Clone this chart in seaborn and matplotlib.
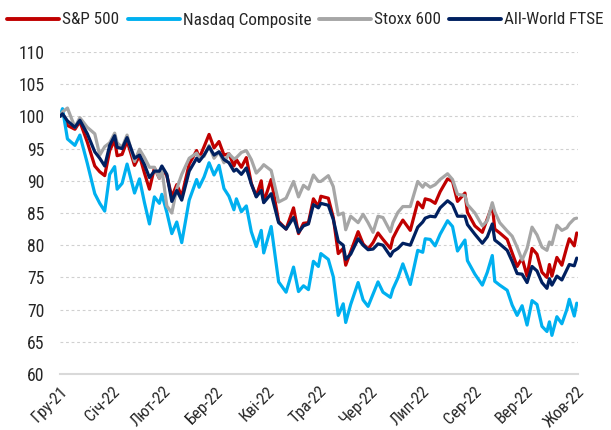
import numpy as np
import pandas as pd
import matplotlib
matplotlib.use("Agg")
import matplotlib.pyplot as plt
from matplotlib import font_manager
import seaborn as sns

# trading-day index (0 = 31 Dec 2021) of each sampled point
day_idx = [0, 1, 3, 6, 8, 11, 14, 16, 18, 20, 22, 23, 25, 27, 30, 32, 34, 36, 38, 40,
           41, 43, 45, 47, 49, 52, 55, 56, 58, 60, 62, 64, 66, 68, 70, 71, 73, 75, 77, 79,
           81, 82, 85, 88, 91, 94, 96, 98, 100, 102, 104, 105, 108, 110, 112, 114, 115, 117, 120, 122,
           124, 126, 128, 130, 133, 134, 136, 138, 141, 144, 146, 147, 149, 151, 153, 156, 158, 160, 163, 164,
           167, 170, 172, 174, 175, 177, 180, 182, 184, 186, 188, 190, 192, 194, 196, 197, 198, 200, 202, 204,
           205, 207, 208]

sp500 = [100.0, 100.6, 98.6, 98.0, 99.2, 96.0, 92.3, 91.4, 90.8, 94.7, 96.3, 93.9, 94.1, 96.2, 92.4, 93.9, 91.2, 88.7, 92.0, 90.4,
         92.0, 90.8, 87.5, 89.4, 87.6, 92.6, 94.7, 93.5, 95.3, 97.2, 95.1, 96.1, 94.0, 94.2, 92.3, 93.3, 92.1, 93.6, 89.6, 87.6,
         90.0, 86.7, 90.2, 83.7, 82.5, 85.8, 81.8, 83.4, 83.5, 87.2, 86.0, 87.6, 87.3, 84.3, 78.7, 79.5, 76.9, 79.0, 82.1, 80.2,
         79.4, 80.4, 81.9, 80.9, 79.5, 81.1, 82.6, 83.9, 82.3, 86.7, 85.8, 87.2, 87.0, 86.5, 88.3, 90.3, 89.9, 86.8, 88.1, 85.1,
         83.0, 82.0, 84.1, 86.2, 82.5, 81.9, 80.9, 78.8, 76.7, 78.0, 75.2, 79.5, 78.6, 75.8, 75.0, 77.0, 75.2, 78.1, 76.9, 79.7,
         81.0, 79.9, 81.9]

nasdaq = [100.0, 101.2, 96.5, 95.5, 97.1, 92.7, 88.0, 86.5, 85.3, 91.0, 92.2, 88.7, 89.6, 92.6, 88.1, 90.3, 86.6, 83.3, 87.5, 86.5,
          87.9, 85.1, 81.8, 83.6, 80.4, 87.0, 90.2, 89.0, 90.6, 92.8, 90.9, 92.4, 88.8, 87.6, 85.5, 87.2, 85.2, 86.1, 82.1, 79.8,
          82.3, 78.8, 82.9, 74.3, 72.7, 76.6, 72.8, 73.7, 73.1, 77.5, 76.7, 78.7, 77.8, 75.1, 69.1, 70.9, 68.0, 70.8, 74.2, 71.5,
          70.5, 72.4, 74.3, 72.7, 71.9, 73.2, 74.9, 77.1, 73.9, 79.2, 78.9, 81.0, 80.9, 79.9, 81.7, 83.8, 82.9, 79.1, 80.8, 77.6,
          75.5, 73.8, 75.8, 78.4, 74.4, 73.8, 73.0, 70.7, 69.1, 70.6, 67.6, 71.4, 70.8, 67.4, 66.6, 68.1, 66.0, 68.9, 67.8, 70.0,
          71.6, 69.0, 71.0]

stoxx600 = [100.0, 100.7, 101.3, 98.3, 99.8, 98.3, 97.3, 94.0, 95.3, 95.9, 97.4, 95.9, 95.2, 97.1, 93.0, 94.9, 93.6, 92.1, 92.1, 90.4,
            91.8, 86.1, 85.0, 88.8, 91.0, 93.5, 94.3, 93.6, 93.8, 95.5, 93.5, 94.5, 92.8, 94.2, 93.4, 93.6, 94.4, 94.7, 93.3, 91.2,
            92.0, 92.5, 91.6, 86.7, 87.3, 89.9, 87.5, 89.3, 88.7, 90.9, 89.9, 89.9, 90.8, 89.1, 84.7, 85.0, 82.4, 84.5, 83.5, 84.8,
            83.5, 82.0, 84.5, 84.3, 82.1, 83.5, 85.1, 86.0, 86.0, 89.9, 89.0, 89.6, 89.0, 89.4, 90.2, 91.1, 90.2, 87.9, 87.7, 86.3,
            85.0, 83.0, 83.8, 86.6, 85.2, 83.5, 82.2, 81.4, 79.7, 77.7, 79.5, 82.8, 81.6, 79.7, 79.2, 80.5, 80.1, 83.1, 82.3, 82.7,
            83.3, 84.1, 84.2]

ftse_all_world = [100.0, 100.4, 99.3, 98.3, 99.4, 97.3, 94.5, 93.5, 92.3, 95.5, 97.0, 95.2, 95.0, 96.7, 93.5, 94.0, 92.5, 90.5, 91.5, 91.5,
                  92.3, 91.0, 86.8, 88.5, 87.0, 91.5, 93.5, 93.0, 94.0, 95.3, 94.0, 94.5, 93.3, 92.8, 91.5, 91.8, 91.0, 92.0, 89.5, 87.5,
                  88.5, 86.6, 88.0, 83.5, 82.5, 84.3, 82.0, 83.0, 83.3, 86.3, 85.8, 86.5, 86.2, 84.0, 80.6, 80.0, 77.8, 78.6, 81.0, 80.0,
                  79.3, 79.4, 80.2, 80.0, 78.3, 79.0, 79.5, 80.3, 80.0, 82.8, 83.6, 84.2, 84.5, 84.4, 85.8, 86.9, 86.3, 84.5, 84.5, 83.2,
                  81.7, 80.3, 81.3, 83.3, 80.8, 80.2, 79.2, 77.5, 75.6, 75.5, 74.2, 76.7, 76.0, 74.2, 73.3, 74.8, 73.8, 75.2, 74.6, 76.2,
                  77.0, 76.8, 78.0]

series_names = ["S&P 500", "Nasdaq Composite", "Stoxx 600", "All-World FTSE"]
series_values = [sp500, nasdaq, stoxx600, ftse_all_world]
series_colors = ["#C00000", "#00B0F0", "#A6A6A6", "#002060"]

tick_labels = ["Гру-21", "Січ-22", "Лют-22", "Бер-22", "Кві-22", "Тра-22",
               "Чер-22", "Лип-22", "Сер-22", "Вер-22", "Жов-22"]
y_ticks = [60, 65, 70, 75, 80, 85, 90, 95, 100, 105, 110]

df = pd.concat([pd.DataFrame({"day": day_idx, "value": v, "series": n})
                for n, v in zip(series_names, series_values)], ignore_index=True)

sns.set_style("white")

# pick a narrow font if one is installed, else a regular one at a smaller size
names = {f.name for f in font_manager.fontManager.ttflist}
if "Liberation Sans Narrow" in names:
    fam, fs, xfs, lfs = "Liberation Sans Narrow", 13.0, 12.5, 12.8
elif "Roboto Condensed" in names:
    fam, fs, xfs, lfs = "Roboto Condensed", 12.7, 12.0, 12.3
elif "Open Sans Condensed" in names:
    fam, fs, xfs, lfs = "Open Sans Condensed", 12.0, 11.5, 12.0
else:
    fam, fs, xfs, lfs = "Liberation Sans", 10.8, 10.4, 10.6
plt.rcParams["font.family"] = [fam, "DejaVu Sans"]
txt_color = "#262626"
px = lfs * 100 / 72.0  # legend font size in pixels

fig = plt.figure(figsize=(6.11, 4.30), dpi=100)
ax = fig.add_axes([60 / 611, (430 - 374) / 430, (578 - 60) / 611, (374 - 52) / 430])

sns.lineplot(data=df, x="day", y="value", hue="series", hue_order=series_names,
             palette=dict(zip(series_names, series_colors)), linewidth=2.3,
             ax=ax, legend=False, estimator=None, sort=True)

last_day = day_idx[-1]
ax.set_xlim(0, last_day + 0.5)
ax.set_ylim(60, 110)
ax.set_yticks(y_ticks)
ax.set_yticklabels([str(t) for t in y_ticks], fontsize=fs, color=txt_color)
ax.set_xticks(np.linspace(0, last_day, len(tick_labels)))
ax.set_xticklabels(tick_labels, rotation=45, ha="right", rotation_mode="anchor",
                   fontsize=xfs, color=txt_color)
ax.set_xlabel("")
ax.set_ylabel("")

for y in y_ticks[1:]:
    ax.axhline(y, color="#D0D0D0", lw=0.8, ls=(0, (2.5, 2.5)), zorder=0)

for s in ["top", "right", "left"]:
    ax.spines[s].set_visible(False)
ax.spines["bottom"].set_color("#D9D9D9")
ax.spines["bottom"].set_linewidth(1.5)
ax.tick_params(axis="y", length=0, pad=11)
ax.tick_params(axis="x", length=4, width=1.2, color="#D9D9D9", direction="out", pad=3)

handles = [plt.Line2D([], [], color=c, lw=2.8) for c in series_colors]
fig.legend(handles, series_names, loc="center", bbox_to_anchor=(0.5, 1 - 20 / 430),
           ncol=4, frameon=False, fontsize=lfs, handlelength=52 / px, handletextpad=3 / px,
           columnspacing=8 / px, labelcolor=txt_color)

fig.savefig("out.png", dpi=100)
